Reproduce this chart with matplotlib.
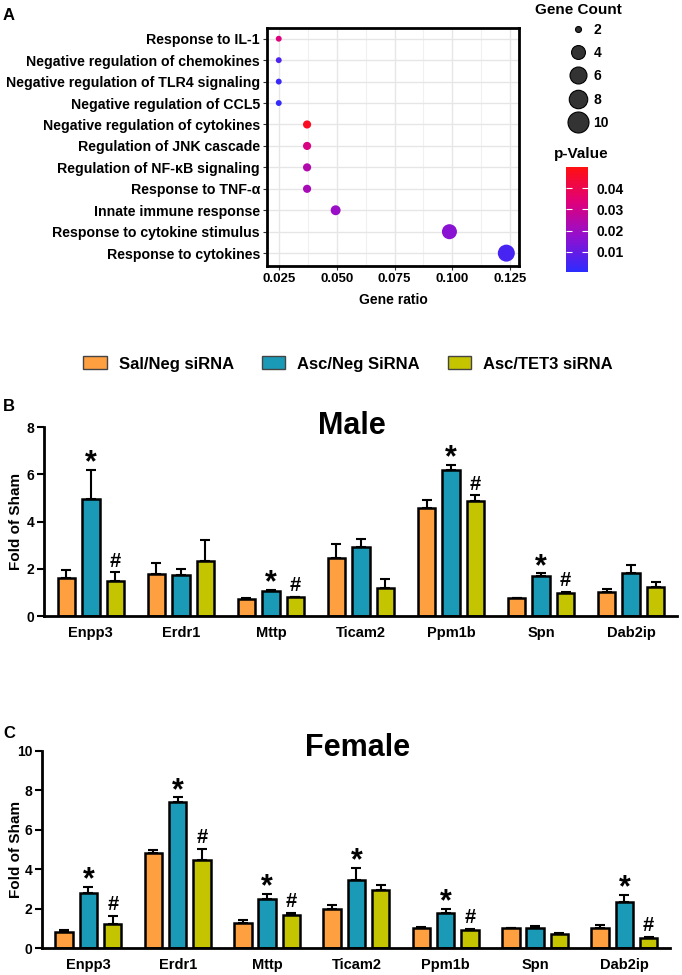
import matplotlib
matplotlib.use('Agg')
import matplotlib.pyplot as plt
import numpy as np
from matplotlib.colors import LinearSegmentedColormap, Normalize
from matplotlib.lines import Line2D
from matplotlib.patches import Patch

plt.rcParams['font.family'] = ['Liberation Sans', 'DejaVu Sans']
plt.rcParams['font.weight'] = 'bold'

# ---- panel A data ----
terms = ['Response to IL-1', 'Negative regulation of chemokines',
         'Negative regulation of TLR4 signaling', 'Negative regulation of CCL5',
         'Negative regulation of cytokines', 'Regulation of JNK cascade',
         'Regulation of NF-\u03baB signaling', 'Response to TNF-\u03b1',
         'Innate immune response', 'Response to cytokine stimulus',
         'Response to cytokines']
gene_ratio = [0.0247, 0.0247, 0.0247, 0.0247, 0.037, 0.037, 0.037, 0.037,
              0.0494, 0.0988, 0.1235]
gene_count = [2, 2, 2, 2, 3, 3, 3, 3, 4, 8, 10]
p_value = [0.033, 0.006, 0.003, 0.002, 0.047, 0.032, 0.024, 0.022, 0.019,
           0.016, 0.005]

# ---- panels B/C data ----
genes = ['Enpp3', 'Erdr1', 'Mttp', 'Ticam2', 'Ppm1b', 'Spn', 'Dab2ip']
groups = ['Sal/Neg siRNA', 'Asc/Neg SiRNA', 'Asc/TET3 siRNA']
colors = ['#FFA040', '#1A9AB6', '#C4C400']

male_mean = [[1.59, 1.79, 0.73, 2.46, 4.59, 0.75, 1.03],
             [4.97, 1.72, 1.06, 2.92, 6.20, 1.69, 1.80],
             [1.48, 2.34, 0.79, 1.20, 4.87, 0.99, 1.24]]
male_sem = [[0.35, 0.46, 0.04, 0.57, 0.34, 0.03, 0.11],
            [1.20, 0.27, 0.05, 0.32, 0.19, 0.11, 0.34],
            [0.37, 0.87, 0.03, 0.36, 0.24, 0.04, 0.21]]
male_marks = [['', '', '', '', '', '', ''],
              ['*', '', '*', '', '*', '*', ''],
              ['#', '', '#', '', '#', '#', '']]

female_mean = [[0.81, 4.80, 1.29, 2.00, 1.03, 1.00, 1.03],
               [2.80, 7.39, 2.50, 3.47, 1.80, 1.03, 2.34],
               [1.20, 4.46, 1.66, 2.93, 0.90, 0.73, 0.51]]
female_sem = [[0.09, 0.20, 0.12, 0.20, 0.04, 0.03, 0.16],
              [0.30, 0.25, 0.23, 0.61, 0.18, 0.10, 0.34],
              [0.43, 0.59, 0.12, 0.29, 0.08, 0.03, 0.05]]
female_marks = [['', '', '', '', '', '', ''],
                ['*', '*', '*', '*', '*', '', '*'],
                ['#', '#', '#', '', '#', '', '#']]

W, H = 682, 975
fig = plt.figure(figsize=(W / 100, H / 100), dpi=100)


def px_axes(x0, y0, x1, y1):
    # axes from pixel box (top-left origin)
    return fig.add_axes([x0 / W, 1 - y1 / H, (x1 - x0) / W, (y1 - y0) / H])


def fig_text(x, y, s, **kw):
    return fig.text(x / W, 1 - y / H, s, **kw)


# ================= panel A =================
cmap = LinearSegmentedColormap.from_list(
    'pv', ['#2c2cff', '#9010d0', '#e0007a', '#ff1010'])
norm = Normalize(vmin=0.0005, vmax=0.05)

axA = px_axes(267, 28, 519, 266)
ypos = np.arange(len(terms))
sizes = 16.5 * np.array(gene_count) - 15
axA.scatter(gene_ratio, ypos, s=sizes, c=p_value, cmap=cmap, norm=norm,
            edgecolors='none', zorder=3)
axA.set_ylim(len(terms) - 0.4, -0.5)
axA.set_xlim(0.0196, 0.129)
axA.set_xticks([0.025, 0.05, 0.075, 0.1, 0.125])
axA.set_xticks([0.0375, 0.0625, 0.0875, 0.1125], minor=True)
axA.set_xticklabels(['0.025', '0.050', '0.075', '0.100', '0.125'],
                    fontsize=9.5, fontweight='bold')
axA.set_yticks(ypos)
axA.set_yticklabels(terms, fontsize=10.2, fontweight='bold')
axA.grid(True, which='major', color='#e6e6e6', lw=1, zorder=0)
axA.grid(True, which='minor', axis='x', color='#f0f0f0', lw=0.8, zorder=0)
axA.set_axisbelow(True)
axA.tick_params(length=3, width=0.8, color='#333333', pad=2)
axA.tick_params(which='minor', length=0)
for sp in axA.spines.values():
    sp.set_linewidth(2)
axA.set_xlabel('Gene ratio', fontsize=10, fontweight='bold', labelpad=6)
fig_text(9, 15, 'A', fontsize=12, fontweight='bold', va='center',
         ha='center')

# size legend
leg_sizes = {2: 4.3, 4: 10, 6: 12.2, 8: 13.3, 10: 15.1}
handles = [Line2D([], [], ls='none', marker='o', markersize=ms,
                  markerfacecolor='#333333', markeredgecolor='black',
                  markeredgewidth=0.8, label=str(k))
           for k, ms in leg_sizes.items()]
fig_text(578, 10, 'Gene Count', ha='center', va='center', fontsize=11,
         fontweight='bold')
fig.legend(handles=handles, loc='upper left',
           bbox_to_anchor=(567 / W, 1 - 23 / H), frameon=False,
           prop={'weight': 'bold', 'size': 10},
           labelspacing=0.66, handletextpad=0.3, borderpad=0.0,
           borderaxespad=0.0, handlelength=1.6)

# colorbar
cax = px_axes(566, 167, 588, 272)
sm = matplotlib.cm.ScalarMappable(norm=norm, cmap=cmap)
cb = fig.colorbar(sm, cax=cax)
cb.outline.set_visible(False)
cb.set_ticks([0.01, 0.02, 0.03, 0.04])
cb.ax.tick_params(direction='in', color='white', length=4, width=0.8,
                  left=True, right=True, pad=6)
for t in cb.ax.get_yticklabels():
    t.set_fontweight('bold')
    t.set_fontsize(10)
fig_text(581, 154, 'p-Value', ha='center', va='center', fontweight='bold',
         fontsize=11)

# ================= bar legend =================
bar_handles = [Patch(facecolor=c, edgecolor='#444444', lw=1, label=g)
               for c, g in zip(colors, groups)]
fig.legend(handles=bar_handles, loc='center', ncol=3,
           bbox_to_anchor=(348 / W, 1 - 364 / H), frameon=False,
           prop={'weight': 'bold', 'size': 12},
           handlelength=1.4, handleheight=0.78, handletextpad=0.72,
           columnspacing=1.68)


def bar_panel(box, means, sems, marks, ymax, title, title_x, title_y,
              letter, letter_y):
    ax = px_axes(*box)
    x = np.arange(len(genes))
    off = 0.272
    wid = 0.195
    for i in range(3):
        xs = x + (i - 1) * off
        ax.bar(xs, means[i], width=wid, color=colors[i], edgecolor='black',
               linewidth=1.8, zorder=2)
        ax.errorbar(xs, means[i], yerr=[np.zeros(len(genes)), sems[i]],
                    fmt='none', ecolor='black', elinewidth=1.5, capsize=3.5,
                    capthick=1.5, zorder=1)
        for j in range(len(genes)):
            m = marks[i][j]
            if m:
                top = means[i][j] + sems[i][j]
                ax.annotate(m, (xs[j], top), xytext=(0, -1 if m == '*' else 4),
                            textcoords='offset points', ha='center',
                            va='baseline', fontsize=22 if m == '*' else 14.5,
                            fontweight='bold')
    ax.set_xlim(-0.52, len(genes) - 0.49)
    ax.set_ylim(0, ymax)
    ax.set_yticks(np.arange(0, ymax + 1, 2))
    ax.set_xticks(x)
    ax.set_xticklabels(genes, fontsize=10.5, fontweight='bold')
    for t in ax.get_yticklabels():
        t.set_fontweight('bold')
        t.set_fontsize(10)
    ax.tick_params(axis='x', length=0, pad=7)
    ax.tick_params(axis='y', length=5, width=1.5, pad=2)
    for s in ['top', 'right']:
        ax.spines[s].set_visible(False)
    for s in ['left', 'bottom']:
        ax.spines[s].set_linewidth(2)
    ax.set_ylabel('Fold of Sham', fontsize=11, fontweight='bold')
    ax.yaxis.set_label_coords((23 - box[0]) / (box[2] - box[0]), 0.5)
    fig_text(title_x, title_y, title, ha='center', va='center', fontsize=22,
             fontweight='bold')
    fig_text(9, letter_y, letter, fontsize=12, fontweight='bold',
             va='center', ha='center')
    return ax


bar_panel((44, 427, 677, 616), male_mean, male_sem, male_marks, 8,
          'Male', 352, 426, 'B', 407)
bar_panel((42, 751, 670, 948), female_mean, female_sem, female_marks, 10,
          'Female', 358, 748, 'C', 733)

fig.savefig('out.png', dpi=100)
